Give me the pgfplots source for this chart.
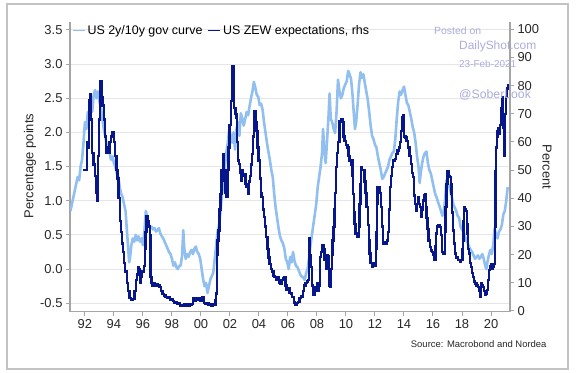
\documentclass[border=0pt]{standalone}
\usepackage{pgfplots}
\pgfplotsset{compat=1.18}
\usepackage{pgfplotstable}
\usepackage{fontspec}
\setmainfont{Liberation Sans}
\definecolor{lb}{RGB}{145,192,240}
\definecolor{db}{RGB}{8,22,140}
\definecolor{axgray}{RGB}{165,165,165}
\definecolor{gridgray}{RGB}{230,230,230}
\definecolor{labelgray}{RGB}{40,40,40}
\definecolor{wm}{RGB}{172,172,222}
\definecolor{framegray}{RGB}{195,195,195}

\pgfplotstableread{
x y
1991.00 0.85
1991.10 0.95
1991.20 1.05
1991.30 1.15
1991.40 1.25
1991.50 1.35
1991.60 1.30
1991.70 1.50
1991.80 1.60
1991.90 1.85
1992.00 2.15
1992.10 2.05
1992.20 2.30
1992.30 2.20
1992.40 2.45
1992.50 2.30
1992.60 2.55
1992.70 2.62
1992.80 2.50
1992.90 2.60
1993.00 2.45
1993.10 2.38
1993.20 2.20
1993.30 2.05
1993.40 1.95
1993.50 1.80
1993.60 1.75
1993.70 1.70
1993.80 1.60
1993.90 1.65
1994.00 1.55
1994.10 1.50
1994.20 1.40
1994.30 1.35
1994.40 1.20
1994.50 1.10
1994.60 1.05
1994.70 0.95
1994.80 0.85
1994.90 0.55
1995.00 0.25
1995.05 0.10
1995.10 0.15
1995.20 0.35
1995.30 0.45
1995.40 0.40
1995.50 0.50
1995.60 0.42
1995.70 0.48
1995.80 0.40
1995.90 0.45
1996.00 0.35
1996.10 0.55
1996.20 0.85
1996.30 0.75
1996.40 0.65
1996.50 0.60
1996.60 0.62
1996.70 0.58
1996.80 0.60
1996.90 0.55
1997.00 0.57
1997.10 0.60
1997.20 0.52
1997.30 0.48
1997.40 0.45
1997.50 0.40
1997.60 0.35
1997.70 0.30
1997.80 0.25
1997.90 0.22
1998.00 0.15
1998.10 0.05
1998.20 0.10
1998.30 0.03
1998.40 0.00
1998.50 0.05
1998.60 0.05
1998.70 0.20
1998.78 0.57
1998.85 0.30
1998.95 0.15
1999.05 0.22
1999.15 0.18
1999.25 0.25
1999.35 0.28
1999.45 0.22
1999.55 0.30
1999.65 0.33
1999.75 0.25
1999.85 0.22
1999.95 0.15
2000.05 0.00
2000.15 -0.15
2000.25 -0.25
2000.35 -0.20
2000.45 -0.35
2000.55 -0.25
2000.65 -0.15
2000.75 -0.10
2000.85 -0.05
2000.95 0.15
2001.05 0.35
2001.15 0.55
2001.25 0.65
2001.35 0.85
2001.45 1.10
2001.55 1.25
2001.65 1.50
2001.75 1.70
2001.85 1.85
2001.95 2.05
2002.05 1.95
2002.15 1.85
2002.25 2.00
2002.35 1.75
2002.45 2.05
2002.55 2.15
2002.65 1.95
2002.75 2.28
2002.85 2.20
2002.95 2.10
2003.05 2.20
2003.15 2.30
2003.25 2.25
2003.35 2.38
2003.45 2.50
2003.55 2.60
2003.65 2.74
2003.75 2.65
2003.85 2.55
2003.95 2.52
2004.05 2.40
2004.15 2.42
2004.25 2.33
2004.35 2.15
2004.45 2.00
2004.55 1.85
2004.65 1.72
2004.75 1.60
2004.85 1.45
2004.95 1.35
2005.05 1.10
2005.15 0.90
2005.25 0.75
2005.35 0.60
2005.45 0.48
2005.55 0.42
2005.65 0.38
2005.75 0.30
2005.85 0.15
2005.95 0.10
2006.05 0.00
2006.15 0.18
2006.25 0.10
2006.35 0.25
2006.45 0.12
2006.55 0.05
2006.65 0.03
2006.75 -0.02
2006.85 -0.08
2006.95 -0.11
2007.05 -0.12
2007.15 -0.16
2007.25 -0.06
2007.35 0.00
2007.45 0.15
2007.55 0.35
2007.65 0.50
2007.75 0.65
2007.85 0.80
2007.95 0.95
2008.05 1.20
2008.15 1.35
2008.25 1.50
2008.35 1.70
2008.42 2.05
2008.50 1.75
2008.60 1.55
2008.70 1.90
2008.80 2.25
2008.87 2.57
2008.95 2.20
2009.05 2.15
2009.15 2.05
2009.25 1.99
2009.35 2.30
2009.45 2.77
2009.55 2.60
2009.65 2.50
2009.75 2.55
2009.85 2.65
2009.95 2.70
2010.05 2.75
2010.15 2.90
2010.25 2.85
2010.35 2.78
2010.45 2.55
2010.55 2.25
2010.62 2.05
2010.70 2.15
2010.80 2.40
2010.90 2.70
2011.00 2.88
2011.10 2.80
2011.20 2.85
2011.30 2.72
2011.40 2.60
2011.50 2.48
2011.60 2.30
2011.70 2.10
2011.80 1.95
2011.90 1.90
2012.00 1.82
2012.10 1.78
2012.20 1.65
2012.30 1.55
2012.40 1.45
2012.50 1.32
2012.60 1.35
2012.70 1.40
2012.80 1.45
2012.90 1.50
2013.00 1.60
2013.10 1.65
2013.20 1.70
2013.30 1.72
2013.40 1.90
2013.50 2.20
2013.60 2.45
2013.70 2.60
2013.80 2.55
2013.90 2.62
2014.00 2.67
2014.10 2.55
2014.20 2.43
2014.30 2.40
2014.40 2.30
2014.50 2.20
2014.60 2.08
2014.70 2.00
2014.80 1.85
2014.90 1.65
2015.00 1.50
2015.08 1.26
2015.15 1.40
2015.25 1.55
2015.35 1.65
2015.45 1.70
2015.55 1.72
2015.65 1.55
2015.75 1.45
2015.85 1.40
2015.95 1.30
2016.05 1.20
2016.15 1.10
2016.25 1.05
2016.35 0.98
2016.45 0.92
2016.55 0.85
2016.65 0.78
2016.75 0.85
2016.85 1.05
2016.92 1.30
2017.00 1.25
2017.10 1.22
2017.20 1.15
2017.30 1.05
2017.40 0.95
2017.50 0.90
2017.60 0.85
2017.70 0.78
2017.80 0.75
2017.90 0.62
2018.00 0.58
2018.10 0.55
2018.20 0.48
2018.30 0.42
2018.40 0.38
2018.50 0.32
2018.60 0.28
2018.70 0.25
2018.80 0.20
2018.90 0.15
2019.00 0.18
2019.10 0.20
2019.20 0.15
2019.30 0.18
2019.40 0.22
2019.50 0.15
2019.60 0.05
2019.68 0.00
2019.75 0.10
2019.85 0.20
2019.95 0.28
2020.05 0.22
2020.15 0.35
2020.25 0.60
2020.35 0.50
2020.45 0.45
2020.55 0.55
2020.65 0.58
2020.75 0.65
2020.85 0.80
2020.95 0.85
2021.05 1.00
2021.15 1.20
}\curve

\pgfplotstableread{
x y
1991.90 50
1992.05 50
1992.15 60
1992.22 58
1992.30 75
1992.35 77
1992.42 68
1992.50 56
1992.60 52
1992.68 48
1992.75 42
1992.82 45
1992.87 39
1992.92 55
1992.98 68
1993.03 78
1993.08 81.5
1993.15 76
1993.22 73
1993.30 68
1993.36 62
1993.45 56
1993.55 58
1993.62 56
1993.70 60
1993.80 62
1993.90 63.5
1994.00 60
1994.08 55
1994.18 50
1994.25 47
1994.32 40
1994.40 32
1994.48 28
1994.55 24
1994.62 21
1994.70 17
1994.78 14
1994.88 10
1994.97 7
1995.08 4.5
1995.20 3.9
1995.32 4.2
1995.42 7
1995.50 11
1995.58 13
1995.65 15.5
1995.72 15
1995.80 10
1995.88 12
1995.95 14
1996.05 16
1996.12 22
1996.18 28
1996.25 33.5
1996.32 32
1996.40 30
1996.47 27
1996.52 12
1996.58 10
1996.65 9
1996.75 10
1996.85 9
1996.95 9.5
1997.05 9
1997.15 8.5
1997.25 7
1997.35 6
1997.45 5.5
1997.55 5
1997.65 4.5
1997.75 5
1997.85 3.8
1997.95 4.2
1998.05 3.5
1998.15 3
1998.25 3.2
1998.35 2.5
1998.45 2.7
1998.55 2
1998.65 2.2
1998.75 1.8
1998.85 2.3
1998.95 2
1999.05 2.5
1999.15 2
1999.25 2.2
1999.35 2.4
1999.45 4.5
1999.55 3.5
1999.65 4.6
1999.75 4
1999.85 4.6
1999.95 3.6
2000.05 4.8
2000.14 5
2000.22 2.8
2000.32 2.4
2000.42 2.7
2000.52 2.1
2000.62 2.4
2000.72 2
2000.82 2.3
2000.92 2.1
2001.00 4
2001.05 6.2
2001.10 20
2001.15 25
2001.20 28.6
2001.27 36
2001.34 41.6
2001.42 50
2001.50 55.7
2001.57 50
2001.63 46.3
2001.70 42
2001.76 40.4
2001.83 50
2001.90 58
2001.97 66
2002.05 74.6
2002.12 82
2002.18 86.9
2002.24 80
2002.30 72
2002.38 70
2002.45 68.6
2002.50 60
2002.55 53.4
2002.62 52.2
2002.70 49
2002.78 46.3
2002.85 50
2002.92 48
2003.00 48.6
2003.08 45
2003.15 44
2003.23 41.6
2003.30 46
2003.38 48
2003.45 52
2003.52 55.7
2003.58 62
2003.65 68
2003.70 71
2003.76 67
2003.82 64
2003.90 58
2003.97 53.4
2004.05 47
2004.12 42
2004.18 40.4
2004.27 36
2004.35 33.3
2004.42 30
2004.50 26.3
2004.58 22
2004.66 19
2004.73 16.8
2004.82 15
2004.92 14
2005.00 12.5
2005.08 12.1
2005.18 11
2005.28 12
2005.36 10
2005.45 9.8
2005.55 11
2005.65 11.8
2005.75 12.1
2005.82 9
2005.90 7.4
2006.00 8
2006.10 6.5
2006.20 6.2
2006.30 5
2006.40 3
2006.48 2.1
2006.58 2.8
2006.70 3.2
2006.80 4.5
2006.92 5.2
2007.02 7
2007.12 9
2007.20 10
2007.30 10.5
2007.38 11
2007.45 25.7
2007.50 20
2007.58 15.7
2007.66 9
2007.74 5.6
2007.82 7
2007.90 8.6
2007.98 10
2008.06 7
2008.14 9
2008.20 19.2
2008.28 21
2008.36 23.3
2008.44 22
2008.52 18
2008.60 15
2008.66 15.7
2008.72 20
2008.78 19.5
2008.84 9
2008.90 8.6
2008.96 15
2009.02 19.8
2009.08 25
2009.13 29.8
2009.20 36
2009.26 42
2009.33 51
2009.40 56
2009.47 60
2009.55 67.5
2009.65 68
2009.75 67
2009.82 62
2009.90 60.4
2010.00 59
2010.10 58
2010.18 55
2010.25 53.4
2010.33 52
2010.40 53.4
2010.45 48
2010.48 41.6
2010.53 35
2010.58 31
2010.65 27.5
2010.75 26.3
2010.83 26.3
2010.88 30
2010.94 38
2011.00 45
2011.05 51
2011.12 50
2011.20 50
2011.28 46
2011.35 42
2011.42 37
2011.50 30.5
2011.57 25
2011.63 20.4
2011.70 17
2011.78 15.7
2011.88 17
2011.97 16
2012.05 22
2012.10 28
2012.14 38
2012.18 43.9
2012.28 44
2012.36 42
2012.43 36.9
2012.50 30
2012.56 23.9
2012.65 24.5
2012.75 24
2012.82 25
2012.90 28
2012.96 36
2013.02 44
2013.10 48
2013.18 51
2013.26 53.4
2013.36 54
2013.47 55.7
2013.56 57
2013.66 58
2013.74 60
2013.80 64
2013.88 68.7
2013.95 69.5
2014.02 62
2014.10 61.6
2014.18 60.4
2014.28 58
2014.38 55
2014.46 52.2
2014.55 49
2014.62 47.5
2014.70 41
2014.78 38
2014.85 35.6
2014.92 38
2014.97 40.4
2015.03 38
2015.10 36.9
2015.18 33.3
2015.25 36
2015.32 39.2
2015.40 41
2015.45 41.6
2015.50 37
2015.56 33
2015.62 29
2015.70 25
2015.77 22.7
2015.85 21.5
2015.95 21
2016.03 20
2016.10 18
2016.17 23
2016.23 27.5
2016.30 30
2016.38 30.4
2016.46 29.8
2016.55 27
2016.60 21
2016.68 20.4
2016.76 20.4
2016.82 28
2016.87 36.9
2016.93 45
2016.99 49.8
2017.07 48
2017.15 47.5
2017.22 45
2017.27 41.6
2017.33 35
2017.38 28.6
2017.44 24
2017.50 20.4
2017.60 19
2017.72 18
2017.85 17.5
2017.95 18
2018.03 22
2018.07 25
2018.11 32
2018.15 36.9
2018.22 36
2018.28 35.6
2018.33 31
2018.37 27.5
2018.43 22
2018.48 20.4
2018.55 17
2018.62 15.7
2018.70 13.5
2018.76 12.1
2018.84 10.5
2018.92 9.8
2019.00 9
2019.10 8.6
2019.17 7
2019.22 5
2019.28 7
2019.33 9.8
2019.40 9
2019.46 8.6
2019.53 7
2019.60 5.6
2019.66 6
2019.72 7.4
2019.80 11
2019.88 14.5
2019.95 16
2020.02 16.8
2020.08 15
2020.15 15.7
2020.22 16.8
2020.27 30
2020.30 49.8
2020.35 58
2020.40 62
2020.45 64
2020.50 65
2020.55 63
2020.60 66
2020.68 72
2020.75 76
2020.80 70
2020.85 65
2020.88 55
2020.92 68
2020.97 70
2021.05 76
2021.12 79
2021.17 80.5
}\zew

\pgfplotsset{
  common/.style={
    at={(70bp,-311.7bp)}, anchor=south west,
    width=440bp, height=290bp, scale only axis,
    xmin=1990.97, xmax=2021.31,
    axis line style={draw=axgray, line width=1.3bp},
    tick style={draw=axgray, line width=1bp},
    tick align=outside, major tick length=4bp,
    /pgf/number format/assume math mode=true,
    tick label style={font=\fontsize{13}{15}\selectfont, text=labelgray},
  }
}

\begin{document}
\begin{tikzpicture}
\path[use as bounding box] (0,0) rectangle (576bp,-373bp);
\fill[white] (0,0) rectangle (576bp,-373bp);
\draw[framegray, line width=1.2bp] (7bp,-4bp) rectangle (568bp,-369bp);

\begin{axis}[common,
  axis y line*=left, axis x line*=bottom,
  ymin=-0.623, ymax=3.62,
  ytick={-0.5,0,0.5,1,1.5,2,2.5,3,3.5},
  yticklabel style={/pgf/number format/.cd, fixed, fixed zerofill, precision=1},
  ymajorgrids, grid style={draw=gridgray, line width=0.9bp},
  xtick={1992,1994,...,2020},
  xticklabels={92,94,96,98,00,02,04,06,08,10,12,14,16,18,20},
]
\addplot[lb, line width=2.6bp, line join=round] table[x=x,y=y] {\curve};
\end{axis}

\begin{axis}[common,
  axis y line*=right, axis x line=none,
  ymin=-0.25, ymax=102.7,
  ytick={0,10,...,100},
  legend style={at={(axis description cs:0.004,0.995)}, anchor=north west,
    draw=none, fill=none, inner sep=0pt,
    font=\fontsize{12.5}{14}\selectfont,
    /tikz/every even column/.append style={column sep=3bp}},
  legend columns=2,
  legend image code/.code={\draw[#1, line width=1.6bp] (0bp,0bp) -- (12bp,0bp);},
]
\addlegendimage{lb}
\addlegendentry{US 2y/10y gov curve}
\addplot[db, const plot, line width=2.3bp, line join=miter] table[x=x,y=y] {\zew};
\addlegendentry{US ZEW expectations, rhs}
\end{axis}

\node[rotate=90, font=\fontsize{13}{15}\selectfont, text=labelgray] at (30bp,-166bp) {Percentage points};
\node[rotate=-90, font=\fontsize{13}{15}\selectfont, text=labelgray] at (547bp,-167bp) {Percent};
\node[anchor=east, font=\fontsize{9.5}{11}\selectfont, text=labelgray] at (550bp,-344bp) {Source: Macrobond and Nordea};

\node[anchor=west, font=\fontsize{10.5}{12}\selectfont, text=wm, inner sep=0pt] at (434bp,-31bp) {Posted on};
\node[anchor=west, font=\fontsize{12}{14}\selectfont, text=wm, inner sep=0pt] at (459bp,-46bp) {DailyShot.com};
\node[anchor=west, font=\fontsize{10}{12}\selectfont, text=wm, inner sep=0pt] at (459bp,-64bp) {23-Feb-2021};
\node[anchor=west, font=\fontsize{12.3}{14}\selectfont, text=wm, inner sep=0pt] at (459bp,-94.5bp) {@SoberLook};
\end{tikzpicture}
\end{document}
